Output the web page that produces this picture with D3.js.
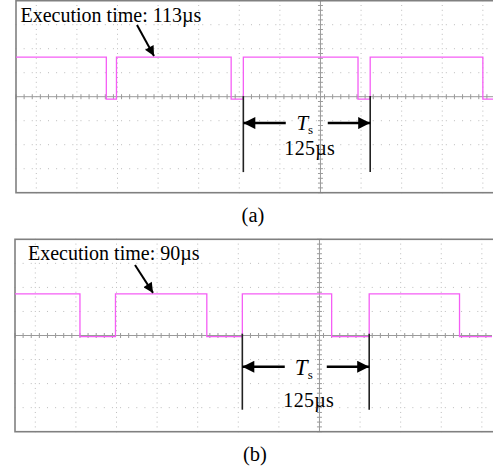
<!DOCTYPE html>
<html><head><meta charset="utf-8">
<script src="https://cdn.jsdelivr.net/npm/d3@7"></script>
<style>html,body{margin:0;padding:0;background:#fff}svg{display:block}</style>
</head><body>
<svg id="c" width="493" height="471"></svg>
<script>
// ---- data (time in µs, centre of scope screen = 0; level in divisions) ----
const panelNames = ["(a)", "(b)"];
const execLabels = ["Execution time: 113µs", "Execution time: 90µs"];
const periodLabel = "125µs";
const topTimes  = [-300, -211, -201, -88, -76, 37, 49, 160, 170];
const topLevels = [1.65, -0.1, 1.65, -0.1, 1.65, -0.1, 1.65, -0.1, -0.1];
const botTimes  = [-300, -236, -201, -111, -76, 12, 49, 138, 170];
const botLevels = [1.73, -0.05, 1.73, -0.05, 1.73, -0.05, 1.73, -0.05, -0.05];
const periodMarks = [-76, 49];           // start/end of Ts (µs)
const execPointTime = [-164, -164];      // where the execution-time arrow points
const timeDomain = [-300, 170];
const levelDomain = [-4, 4];
const gridStepT = 40, gridStepV = 1;

// ---- layout ----
const FONT = "Liberation Serif, Times New Roman, serif";
const panels = [
  {times: topTimes, levels: topLevels, x0: 16, x1: 493, y0: 0.7, y1: 192.7,
   textX: 20.5, textY: 21.7, tail: [137, 25], arrowY: -1.1, tDy: 7, numDy: 32,
   capY: 222, capX: 253, tSize: 21},
  {times: botTimes, levels: botLevels, x0: 15, x1: 492, y0: 239.3, y1: 431.7,
   textX: 28, textY: 259.5, tail: [135, 265], arrowY: -1.3, tDy: 8.5, numDy: 40,
   capY: 461, capX: 255, tSize: 23}
];

const svg = d3.select("#c");
const defs = svg.append("defs");
function marker(id, w, h) {
  defs.append("marker").attr("id", id).attr("viewBox", "0 0 10 10")
    .attr("refX", 10).attr("refY", 5).attr("markerUnits", "userSpaceOnUse")
    .attr("markerWidth", w).attr("markerHeight", h).attr("orient", "auto")
    .append("path").attr("d", "M0,0L10,5L0,10Z").attr("fill", "#000");
}
marker("ah", 12, 10);
marker("ahBig", 15, 12);

panels.forEach((p, i) => {
  const x = d3.scaleLinear().domain(timeDomain).range([p.x0, p.x1]);
  const y = d3.scaleLinear().domain(levelDomain).range([p.y1, p.y0]);
  const g = svg.append("g");

  // dotted grid
  const gridT = d3.range(-280, 170, gridStepT).filter(t => t !== 0);
  const gridV = d3.range(-3, 4, gridStepV).filter(v => v !== 0);
  const minorT = d3.range(-300, 171, 8);
  const minorV = d3.range(-4, 4.01, 0.2);
  const dots = g.append("g").attr("fill", "#bcbcbc");
  gridV.forEach(v => minorT.forEach(t => dots.append("rect")
    .attr("x", x(t) - 0.5).attr("y", y(v) - 0.5).attr("width", 1).attr("height", 1)));
  gridT.forEach(t => minorV.forEach(v => dots.append("rect")
    .attr("x", x(t) - 0.5).attr("y", y(v) - 0.5).attr("width", 1).attr("height", 1)));

  // centre axes with minor ticks
  const ax = g.append("g").attr("stroke", "#9a9a9a").attr("stroke-width", 1);
  ax.append("line").attr("x1", p.x0).attr("x2", p.x1).attr("y1", y(0)).attr("y2", y(0));
  ax.append("line").attr("x1", x(0)).attr("x2", x(0)).attr("y1", p.y0).attr("y2", p.y1);
  minorT.forEach(t => ax.append("line").attr("x1", x(t)).attr("x2", x(t))
    .attr("y1", y(0) - 2.5).attr("y2", y(0) + 2.5));
  minorV.forEach(v => ax.append("line").attr("x1", x(0) - 2.5).attr("x2", x(0) + 2.5)
    .attr("y1", y(v)).attr("y2", y(v)));

  // frame
  g.append("rect").attr("x", p.x0).attr("y", p.y0).attr("width", p.x1 - p.x0 + 5)
    .attr("height", p.y1 - p.y0).attr("fill", "none").attr("stroke", "#808080").attr("stroke-width", 1.6);

  // signal
  const pts = p.times.map((t, k) => [t, p.levels[k]]);
  g.append("path").datum(pts)
    .attr("d", d3.line().x(d => x(d[0])).y(d => y(d[1])).curve(d3.curveStepAfter))
    .attr("fill", "none").attr("stroke", "#f55ef5").attr("stroke-width", 1.3);

  // execution-time annotation
  g.append("text").attr("x", p.textX).attr("y", p.textY).text(execLabels[i])
    .attr("font-family", FONT).attr("font-size", 20);
  const hi = p.levels[0];
  g.append("line").attr("x1", p.tail[0]).attr("y1", p.tail[1])
    .attr("x2", x(execPointTime[i])).attr("y2", y(hi) - 1)
    .attr("stroke", "#000").attr("stroke-width", 2).attr("marker-end", "url(#ah)");

  // period markers
  const lowY = y(p.levels[1]);
  const ay = y(p.arrowY);
  periodMarks.forEach(t => g.append("line").attr("x1", x(t)).attr("x2", x(t))
    .attr("y1", lowY - 3).attr("y2", lowY + 73).attr("stroke", "#222").attr("stroke-width", 1.6));
  const xa = x(periodMarks[0]), xb = x(periodMarks[1]), xm = (xa + xb) / 2;
  g.append("line").attr("x1", xm - 21).attr("x2", xa).attr("y1", ay).attr("y2", ay)
    .attr("stroke", "#000").attr("stroke-width", 2.5).attr("marker-end", "url(#ahBig)");
  g.append("line").attr("x1", xm + 21).attr("x2", xb).attr("y1", ay).attr("y2", ay)
    .attr("stroke", "#000").attr("stroke-width", 2.5).attr("marker-end", "url(#ahBig)");
  const tt = g.append("text").attr("x", xm - 2).attr("y", ay + p.tDy)
    .attr("font-family", FONT).attr("font-size", p.tSize)
    .attr("text-anchor", "middle");
  tt.append("tspan").attr("font-style", "italic").text("T");
  tt.append("tspan").attr("font-size", 13).attr("dy", 4).text("s");
  g.append("text").attr("x", xm + 3).attr("y", ay + p.numDy).text(periodLabel)
    .attr("font-family", FONT).attr("font-size", 20)
    .attr("text-anchor", "middle").attr("letter-spacing", 0.3);

  // caption
  g.append("text").attr("x", p.capX).attr("y", p.capY).text(panelNames[i])
    .attr("font-family", FONT).attr("font-size", 20.5)
    .attr("text-anchor", "middle");
});
</script>
</body></html>
